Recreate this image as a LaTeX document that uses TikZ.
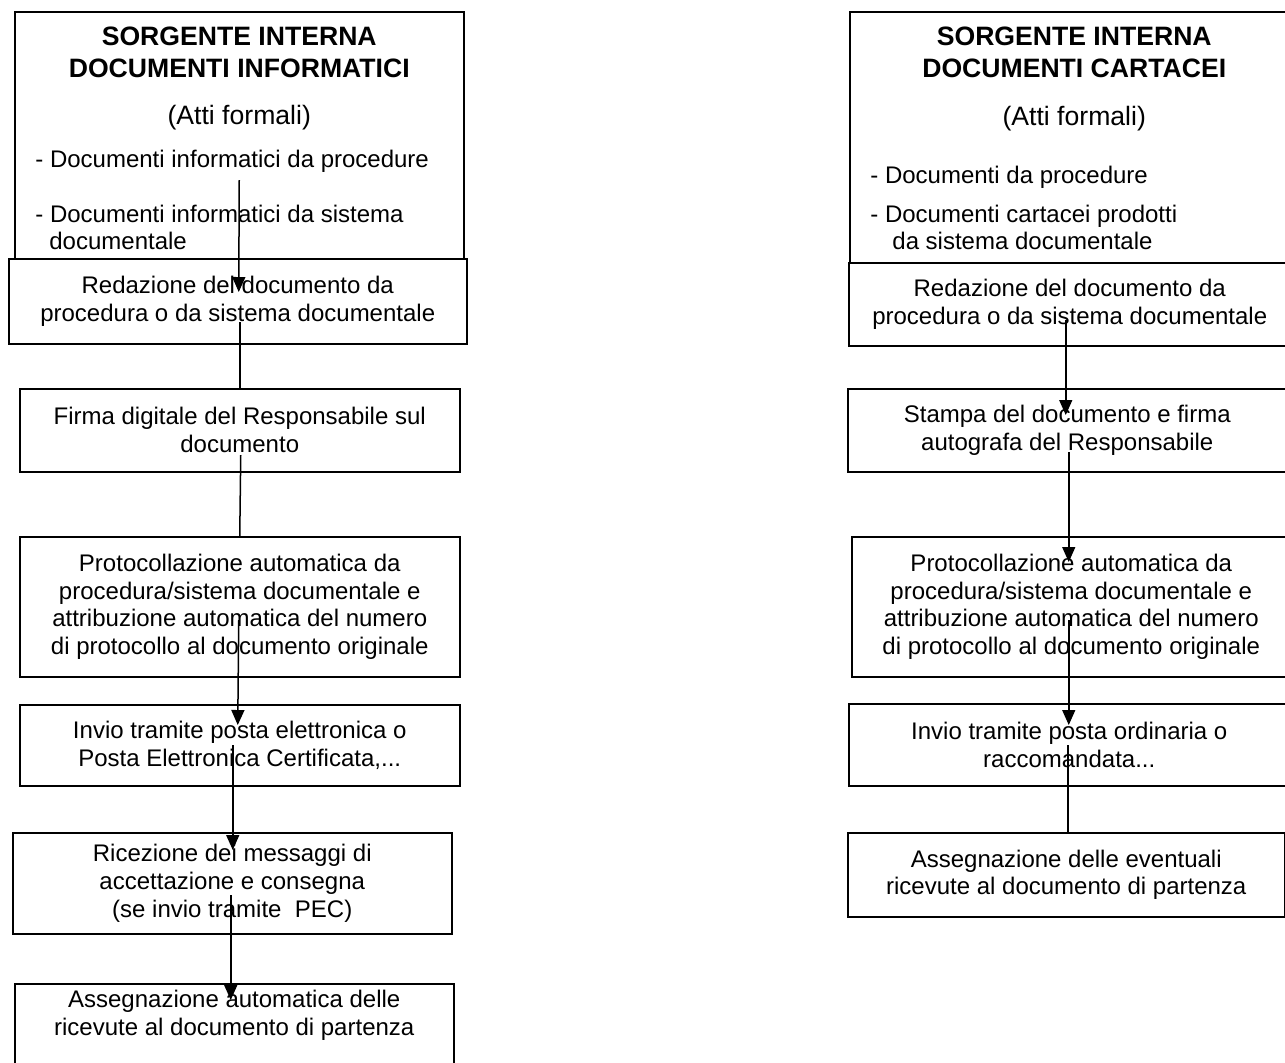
\documentclass[tikz,border=0pt]{standalone}
\usepackage{fontspec}
\setmainfont{Liberation Sans}
\usetikzlibrary{arrows.meta,calc}

\tikzset{
  stepbox/.style={draw, line width=0.75pt, fill=white, anchor=north west, align=center,
    inner sep=2pt, font=\fontsize{12}{13.85}\selectfont},
  headline/.style={anchor=base, inner sep=0pt, font=\fontsize{13.3}{16}\selectfont\bfseries},
  subline/.style={anchor=base, inner sep=0pt, font=\fontsize{13.3}{16}\selectfont},
  listline/.style={anchor=base west, inner sep=0pt, font=\fontsize{12}{13.85}\selectfont},
  flow/.style={line width=0.75pt, -{Triangle[width=6.5pt,length=7.5pt]}},
  link/.style={line width=0.75pt},
}

\begin{document}
\begin{tikzpicture}[x=0.5pt, y=-0.5pt]
\useasboundingbox (0,0) rectangle (1285,1062);

% left column: documenti informatici
\node (srcL) [stepbox, minimum width=224.5pt, minimum height=127pt] at (14,11) {};
\node (srcLa) [headline] at ($(srcL.north)+(0,34)$) {SORGENTE INTERNA};
\node (srcLb) [headline] at ($(srcL.north)+(0,66)$) {DOCUMENTI INFORMATICI};
\node (srcLc) [subline] at ($(srcL.north)+(0,113)$) {(Atti formali)};
\node (srcLd) [listline] at ($(srcL.north west)+(21,156)$) {- Documenti informatici da procedure};
\node (srcLe) [listline] at ($(srcL.north west)+(21,211)$) {- Documenti informatici da sistema};
\node (srcLf) [listline] at ($(srcL.north west)+(35,238)$) {documentale};

\node (redL) [stepbox, minimum width=229pt, minimum height=42.5pt] at (8,258)
  {Redazione del documento da\\procedura o da sistema documentale};
\node (firmaL) [stepbox, minimum width=220pt, minimum height=41.5pt] at (19,388)
  {Firma digitale del Responsabile sul\\documento};
\node (protoL) [stepbox, minimum width=220pt, minimum height=70pt] at (19,536)
  {Protocollazione automatica da\\procedura/sistema documentale e\\attribuzione automatica del numero\\di protocollo al documento originale};
\node (invioL) [stepbox, minimum width=220pt, minimum height=40.5pt] at (19,704)
  {Invio tramite posta elettronica o\\Posta Elettronica Certificata,...};
\node (ricL) [stepbox, minimum width=219.5pt, minimum height=50.5pt] at (12,832)
  {Ricezione dei messaggi di\\accettazione e consegna\\(se invio tramite\ \ PEC)};
\node (assL) [stepbox, minimum width=219.5pt, minimum height=42pt, text depth=13pt] at (14,983)
  {Assegnazione automatica delle\\ricevute al documento di partenza};

% right column: documenti cartacei
\node (srcR) [stepbox, minimum width=224.5pt, minimum height=127pt] at (849,11) {};
\node (srcRa) [headline] at ($(srcR.north)+(0,34)$) {SORGENTE INTERNA};
\node (srcRb) [headline] at ($(srcR.north)+(0,66)$) {DOCUMENTI CARTACEI};
\node (srcRc) [subline] at ($(srcR.north)+(0,114)$) {(Atti formali)};
\node (srcRd) [listline] at ($(srcR.north west)+(21,172)$) {- Documenti da procedure};
\node (srcRe) [listline] at ($(srcR.north west)+(21,211)$) {- Documenti cartacei prodotti};
\node (srcRf) [listline] at ($(srcR.north west)+(43,238)$) {da sistema documentale};

\node (redR) [stepbox, minimum width=221pt, minimum height=41.5pt] at (848,262)
  {Redazione del documento da\\procedura o da sistema documentale};
\node (stampaR) [stepbox, minimum width=219.5pt, minimum height=41.5pt] at (847,388)
  {Stampa del documento e firma\\autografa del Responsabile};
\node (protoR) [stepbox, minimum width=219.5pt, minimum height=70pt] at (851,536)
  {Protocollazione automatica da\\procedura/sistema documentale e\\attribuzione automatica del numero\\di protocollo al documento originale};
\node (invioR) [stepbox, minimum width=220.5pt, minimum height=41pt] at (848,703)
  {Invio tramite posta ordinaria o\\raccomandata...};
\node (assR) [stepbox, minimum width=218.5pt, minimum height=42pt] at (847,832)
  {Assegnazione delle eventuali\\ricevute al documento di partenza};

% connectors, left
\draw[flow] ($(srcL.north)+(0,169)$) -- ($(redL.north)+(1,34)$);
\draw[link] ($(redL.north)+(2,64)$) -- (firmaL.north);
\draw[link] ($(firmaL.north)+(1,67)$) -- (protoL.north);
\draw[flow] ($(protoL.north)+(-1,84)$) -- ($(invioL.north)+(-2,21)$);
\draw[flow] ($(invioL.north)+(-7,41)$) -- ($(ricL.north)+(0.5,18)$);
\draw[flow] ($(ricL.north)+(-1.5,63)$) -- ($(assL.north)+(-3.5,17)$);

% connectors, right
\draw[flow] ($(redR.north)+(-4,58)$) -- ($(stampaR.north)+(-1.5,27)$);
\draw[flow] ($(stampaR.north)+(1.5,64)$) -- ($(protoR.north)+(-2.5,26)$);
\draw[flow] ($(protoR.north)+(-2.5,84)$) -- ($(invioR.north)+(-0.5,22)$);
\draw[link] ($(invioR.north)+(-1.5,42)$) -- ($(assR.north)+(1.5,0)$);
\end{tikzpicture}
\end{document}
